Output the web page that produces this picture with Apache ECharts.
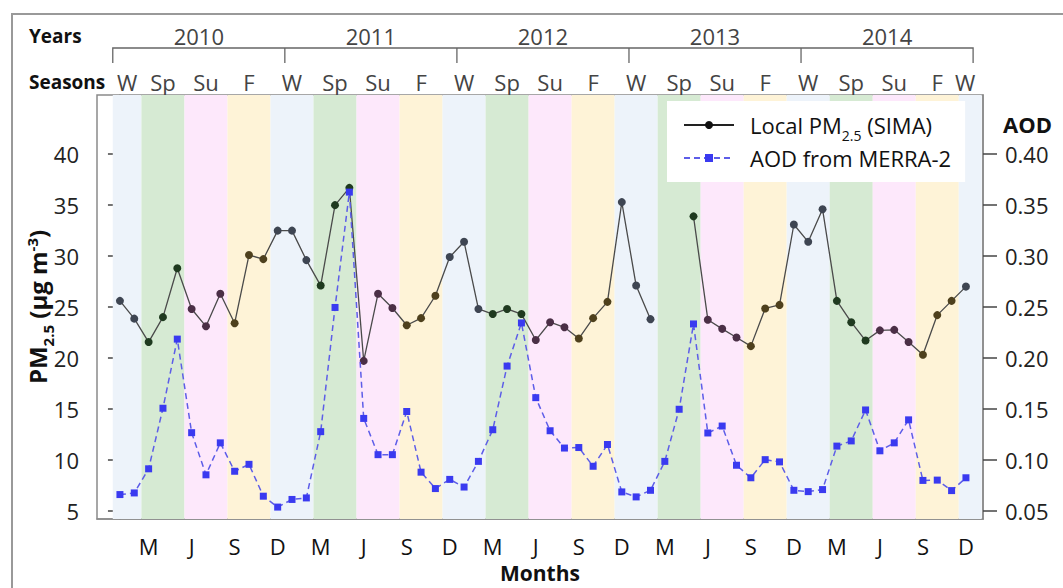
<!DOCTYPE html>
<html><head><meta charset="utf-8">
<script src="https://cdn.jsdelivr.net/npm/echarts@6/dist/echarts.min.js"></script>
<style>html,body{margin:0;padding:0;background:#fff}#c{width:1063px;height:588px}</style>
</head><body><div id="c"></div>
<script>
// ---------- data ----------
const years = [2010, 2011, 2012, 2013, 2014];
const monthNames = ['Jan','Feb','Mar','Apr','May','Jun','Jul','Aug','Sep','Oct','Nov','Dec'];
const categories = years.flatMap(y => monthNames.map(m => m + ' ' + y));
// Local PM2.5 (SIMA), µg m-3
const pm25 = [
  25.6, 23.85, 21.55, 24.0, 28.8, 24.8, 23.1, 26.3, 23.4, 30.1, 29.7, 32.5,
  32.5, 29.6, 27.1, 35.0, 36.7, 19.7, 26.3, 24.9, 23.2, 23.9, 26.1, 29.9,
  31.4, 24.8, 24.3, 24.8, 24.3, 21.75, 23.5, 23.0, 21.9, 23.9, 25.5, 35.3,
  27.1, 23.8, null, null, 33.9, 23.75, 22.85, 22.0, 21.15, 24.85, 25.2, 33.1,
  31.4, 34.6, 25.6, 23.5, 21.7, 22.7, 22.75, 21.55, 20.3, 24.2, 25.6, 27.0
];
// AOD from MERRA-2
const aod = [
  0.0657, 0.0673, 0.0910, 0.1505, 0.2184, 0.1265, 0.0851, 0.1165, 0.0886, 0.0954, 0.0641, 0.0534,
  0.0609, 0.0624, 0.1275, 0.2495, 0.3628, 0.1405, 0.1049, 0.1049, 0.1473, 0.0877, 0.0716, 0.0806,
  0.0731, 0.0983, 0.1294, 0.1919, 0.2343, 0.1609, 0.1284, 0.1114, 0.1119, 0.0935, 0.1149, 0.0683,
  0.0634, 0.0699, 0.0983, 0.1495, 0.2333, 0.1262, 0.1330, 0.0945, 0.0822, 0.1000, 0.0978, 0.0699,
  0.0686, 0.0706, 0.1133, 0.1184, 0.1488, 0.1087, 0.1165, 0.1391, 0.0796, 0.0799, 0.0696, 0.0822
];
const pmTicks = [5, 10, 15, 20, 25, 30, 35, 40];
const aodTicks = [0.05, 0.10, 0.15, 0.20, 0.25, 0.30, 0.35, 0.40];
const monthTickLetters = {2: 'M', 5: 'J', 8: 'S', 11: 'D'};
const seasons = ['W','Sp','Su','F','W','Sp','Su','F','W','Sp','Su','F','W','Sp','Su','F','W','Sp','Su','F','W'];

// ---------- styling ----------
const FONT = '"Open Sans", "DejaVu Sans", sans-serif';
const seasonColor = {W: '#edf3fa', Sp: '#d6ead3', Su: '#fde8fb', F: '#fef3d7'};
const seasonMarker = {W: '#3e4552', Sp: '#1f3a1f', Su: '#4b2f46', F: '#4e401d'};
const X_MIN = -1.6, X_MAX = 60.19;
function seasonOfMonth(i) {
  const m = i % 12;
  if (m === 11 || m <= 1) return 'W';
  if (m <= 4) return 'Sp';
  if (m <= 7) return 'Su';
  return 'F';
}
// season band extents in month-index units
const bands = seasons.map((s, k) => {
  const from = k === 0 ? -0.5 : 1.5 + 3 * (k - 1);
  const to = k === seasons.length - 1 ? 60.1 : 1.5 + 3 * k;
  return {s, from, to};
});
const tickIdx = categories.map((c, i) => i).filter(i => monthTickLetters[i % 12]);

const chart = echarts.init(document.getElementById('c'), null, {renderer: 'svg'});
const option = {
  animation: false,
  backgroundColor: '#fff',
  grid: {left: 97, right: 80, top: 95, bottom: 64, show: true, borderColor: '#8a8a8a', borderWidth: 1.5},
  legend: {
    orient: 'vertical', left: 667, top: 101,
    backgroundColor: '#fff', padding: [12, 14, 12, 16], itemGap: 4,
    itemWidth: 50, itemHeight: 10,
    formatter: n => n.indexOf('Local') === 0 ? 'Local PM{sub|2.5} (SIMA)' : n,
    textStyle: {fontFamily: FONT, fontSize: 22, color: '#111', lineHeight: 24, padding: [0, 0, 0, 11],
      rich: {sub: {fontFamily: FONT, fontSize: 14, color: '#111', verticalAlign: 'top', lineHeight: 14, padding: [15, 0, 0, 0]}}},
    data: [
      {name: 'Local PM2.5 (SIMA)', itemStyle: {color: '#111'}, lineStyle: {color: '#222'}},
      {name: 'AOD from MERRA-2'}
    ]
  },
  xAxis: [{
    type: 'value', min: X_MIN, max: X_MAX,
    name: 'Months', nameLocation: 'middle', nameGap: 43, nameMoveOverlap: false,
    nameTextStyle: {fontFamily: FONT, fontSize: 21, fontWeight: 'bold', color: '#111'},
    axisLine: {show: true, lineStyle: {color: '#8a8a8a', width: 1.5}},
    axisTick: {show: false},
    splitLine: {show: false},
    axisLabel: {customValues: tickIdx, margin: 16, fontFamily: FONT, fontSize: 22, color: '#111',
      formatter: v => monthTickLetters[Math.round(v) % 12] || ''}
  }],
  yAxis: [{
    type: 'value', min: 4.17, max: 45.82,
    name: 'PM{sub|2.5} (µg m{sup|-3})', nameLocation: 'middle', nameGap: 47, nameRotate: 90, nameMoveOverlap: false,
    nameTextStyle: {fontFamily: FONT, fontSize: 24, fontWeight: 'bold', color: '#111', lineHeight: 26,
      rich: {
        sub: {fontFamily: FONT, fontSize: 15, fontWeight: 'bold', color: '#111', verticalAlign: 'top', lineHeight: 15, padding: [16, 0, 0, 0]},
        sup: {fontFamily: FONT, fontSize: 15, fontWeight: 'bold', color: '#111', verticalAlign: 'top', lineHeight: 15, padding: [0, 0, 0, 0]}
      }},
    axisLine: {show: true, lineStyle: {color: '#8a8a8a', width: 1.5}},
    axisTick: {show: true, customValues: pmTicks, length: 12, lineStyle: {color: '#444', width: 1.5}},
    axisLabel: {customValues: pmTicks, margin: 18, fontFamily: FONT, fontSize: 22, color: '#222'},
    splitLine: {show: false}
  }, {
    type: 'value', min: 0.0417, max: 0.4582, position: 'right',
    axisLine: {show: true, lineStyle: {color: '#8a8a8a', width: 1.5}},
    axisTick: {show: true, customValues: aodTicks, length: 14, lineStyle: {color: '#444', width: 1.5}},
    axisLabel: {customValues: aodTicks, margin: 22, fontFamily: FONT, fontSize: 22, color: '#222',
      formatter: v => v.toFixed(2)},
    splitLine: {show: false}
  }],
  series: [{
    name: 'Local PM2.5 (SIMA)', type: 'line', xAxisIndex: 0, yAxisIndex: 0,
    data: pm25.map((v, i) => [i, v]),
    connectNulls: false,
    symbol: 'circle', symbolSize: 8,
    itemStyle: {color: p => seasonMarker[seasonOfMonth(p.dataIndex)]},
    lineStyle: {color: '#4a4a4a', width: 1.3},
    markArea: {silent: true, itemStyle: {opacity: 1},
      data: bands.map(b => [{xAxis: b.from, itemStyle: {color: seasonColor[b.s]}}, {xAxis: b.to}])},
    z: 3
  }, {
    name: 'AOD from MERRA-2', type: 'line', xAxisIndex: 0, yAxisIndex: 1,
    data: aod.map((v, i) => [i, v]),
    symbol: 'rect', symbolSize: 7,
    itemStyle: {color: '#3a3af0'},
    lineStyle: {color: '#5d5de8', width: 1.5, type: [6, 4]},
    z: 4
  }]
};
chart.setOption(option);

// ---------- header rows (years / seasons) positioned through the x scale ----------
const X = v => chart.convertToPixel({xAxisIndex: 0}, v);
const g = [];
g.push({type: 'rect', shape: {x: 12, y: 14, width: 1100, height: 620}, style: {fill: 'none', stroke: '#999', lineWidth: 2}, silent: true});
g.push({type: 'text', style: {text: 'Years', x: 29, y: 36, textVerticalAlign: 'middle', font: 'bold 19px ' + FONT, fill: '#111'}});
g.push({type: 'text', style: {text: 'Seasons', x: 29, y: 82, textVerticalAlign: 'middle', font: 'bold 19px ' + FONT, fill: '#111'}});
g.push({type: 'text', style: {text: 'AOD', x: 1003, y: 124, textVerticalAlign: 'middle', font: 'bold 22px ' + FONT, fill: '#111'}});
const yStart = -0.5, yEnd = 59.5;
g.push({type: 'polyline', shape: {points: [[X(yStart), 63], [X(yStart), 48], [X(yEnd), 48], [X(yEnd), 63]]}, style: {stroke: '#666', lineWidth: 1.3, fill: 'none'}});
years.forEach((y, k) => {
  if (k > 0) g.push({type: 'line', shape: {x1: X(yStart + 12 * k), y1: 48, x2: X(yStart + 12 * k), y2: 63}, style: {stroke: '#666', lineWidth: 1.3}});
  g.push({type: 'text', style: {text: String(y), x: X(yStart + 12 * k + 6), y: 36, textAlign: 'center', textVerticalAlign: 'middle', font: '22px ' + FONT, fill: '#444'}});
});
bands.forEach((b, k) => {
  const c = k === bands.length - 1 ? 58.95 : (b.from + b.to) / 2;
  g.push({type: 'text', style: {text: b.s, x: X(c), y: 82, textAlign: 'center', textVerticalAlign: 'middle', font: '22px ' + FONT, fill: '#444'}});
});
chart.setOption({graphic: g});
</script>
</body></html>
